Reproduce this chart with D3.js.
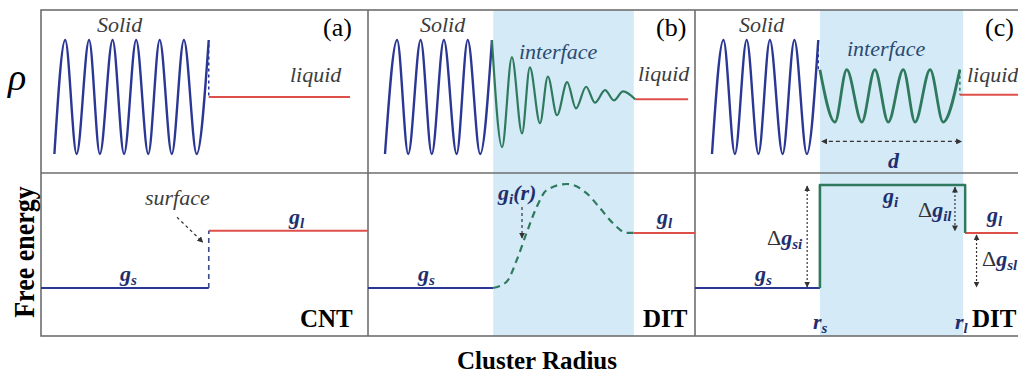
<!DOCTYPE html>
<html><head><meta charset="utf-8">
<script src="https://cdn.jsdelivr.net/npm/d3@7"></script>
<style>
body{margin:0;background:#fff;}
svg{display:block;}
svg text{font-family:"Liberation Serif",Tinos,"Times New Roman",Times,"DejaVu Serif","Noto Serif",serif !important;}
</style></head><body>
<svg id="c" width="1018" height="374"></svg>
<script>
// ---------- data (x: position across a panel 0–100, y: relative value 0–1) ----------
const panelTags = ["(a)", "(b)", "(c)"];
const theories  = ["CNT", "DIT", "DIT"];

// density profiles, extrema
const solidA_x = [4.1,7.4,10.9,14.7,18.0,21.9,25.4,29.1,32.8,36.3,40.0,43.7,47.6,51.3];
const solidA_y = [0,1,0,1,0,1,0,1,0,1,0,1,0,1];
const solidB_x = [5.2,8.9,12.3,16.1,19.5,23.2,27.1,30.5,34.3,37.9];
const solidB_y = [0,1,0,1,0,1,0,1,0,1];
const solidC_x = [5.2,8.7,12.2,15.8,19.4,22.9,26.8,30.4,34.2,37.7];
const solidC_y = [0,1,0,1,0,1,0,1,0,1];
const interfB_x = [37.9,41.0,44.0,47.1,49.5,52.6,55.0,57.8,60.9,63.6,66.7,69.4,72.5,75.2,78.0,81.7];
const interfB_y = [1.0,0.06,0.85,0.18,0.76,0.27,0.68,0.34,0.63,0.40,0.59,0.45,0.56,0.47,0.55,0.48];
const interfC_x = [38.2,42.8,46.4,51.0,55.0,59.1,63.7,67.3,71.9,75.9,81.0];
const interfC_y = [0.74,0.28,0.74,0.28,0.74,0.28,0.74,0.28,0.74,0.28,0.74];
const liquidRho   = [0.50, 0.48, 0.52];
const liquidStart = [51.3, 81.7, 81.0];
const liquidEnd   = [94.5, 97.9, 102];
const interfaceZone = [null, [38.3, 81.3], [38.2, 82.0]];

// free-energy profiles
const gsLevel = 0;
const gsEnd   = [51.3, 38.3, 38.2];
const glLevel = [0.55, 0.53, 0.53];
const glStart = [51.3, 81.3, 82.6];
const glEnd   = [100, 100, 102];
const giB_x = [38.3,42.4,45.5,48.5,51.6,54.6,60.8,66.9,70.9,75.0,79.1,81.3];
const giB_y = [0,0.06,0.27,0.53,0.78,0.94,1.0,0.91,0.77,0.62,0.53,0.53];
const giC_level = 0.99;

// ---------- layout ----------
const FONT = "'Liberation Serif', Tinos, 'Times New Roman', Times, 'DejaVu Serif', 'Noto Serif', serif";
const svg = d3.select("#c");
const panelX0 = [41, 368, 695], panelW = 327;
const top0 = 10, mid = 173, bot0 = 336;
const xs = panelX0.map(x0 => d3.scaleLinear().domain([0,100]).range([x0, x0+panelW]));
const yTop = d3.scaleLinear().domain([0,1]).range([154, 40]);
const yBot = d3.scaleLinear().domain([0,1]).range([288, 184]);

const BLUE = "#2b3794", GREEN = "#2f7a5e", RED = "#de4f4a", NAVY = "#1f2f6e", GREY = "#3c3c3c";

// markers
const defs = svg.append("defs");
function marker(id, color, orient){
  defs.append("marker").attr("id", id).attr("viewBox","0 0 10 10").attr("refX",9).attr("refY",5)
    .attr("markerWidth",5).attr("markerHeight",5).attr("orient", orient)
    .append("path").attr("d","M0,0L10,5L0,10z").attr("fill", color);
}
marker("arr", "#333", "auto");
marker("arr2", "#333", "auto-start-reverse");

// interface shading
interfaceZone.forEach((z,i) => {
  if (!z) return;
  svg.append("rect").attr("x", xs[i](z[0])).attr("y", top0)
    .attr("width", xs[i](z[1]) - xs[i](z[0])).attr("height", bot0 - top0)
    .attr("fill", "#d4eaf7");
});

// frame
const frame = svg.append("g").attr("stroke", "#6e6e6e").attr("stroke-width", 1.6).attr("fill","none");
frame.append("rect").attr("x", panelX0[0]).attr("y", top0).attr("width", 3*panelW).attr("height", bot0-top0);
frame.append("line").attr("x1", panelX0[0]).attr("x2", panelX0[0]+3*panelW).attr("y1", mid).attr("y2", mid);
[1,2].forEach(i => frame.append("line").attr("x1", panelX0[i]).attr("x2", panelX0[i]).attr("y1", top0).attr("y2", bot0));

const zip = (a, b) => a.map((v,k) => [v, b[k]]);
function path(pts, sx, sy, color, w, dash, curve){
  const l = d3.line().x(d => sx(d[0])).y(d => sy(d[1]));
  if (curve) l.curve(curve);
  svg.append("path").attr("d", l(pts)).attr("fill","none").attr("stroke", color)
    .attr("stroke-width", w).attr("stroke-dasharray", dash || null).attr("stroke-linejoin","round");
}

// ---- density panels ----
path(zip(solidA_x, solidA_y), xs[0], yTop, BLUE, 2.4, null, d3.curveMonotoneX);
path(zip(solidB_x, solidB_y), xs[1], yTop, BLUE, 2.4, null, d3.curveMonotoneX);
path(zip(solidC_x, solidC_y), xs[2], yTop, BLUE, 2.4, null, d3.curveMonotoneX);
path(zip(interfB_x, interfB_y), xs[1], yTop, GREEN, 2.2, null, d3.curveMonotoneX);
path(zip(interfC_x, interfC_y), xs[2], yTop, GREEN, 2.8, null, d3.curveMonotoneX);
liquidRho.forEach((v,i) => path([[liquidStart[i], v],[liquidEnd[i], v]], xs[i], yTop, RED, 2));
// connectors
path([[solidA_x[13], 0.96],[solidA_x[13], liquidRho[0]]], xs[0], yTop, BLUE, 1.5, "3,3");
path([[solidC_x[9], 0.98],[solidC_x[9], interfC_y[0]]], xs[2], yTop, BLUE, 1.5, "3,3");
path([[interfC_x[10], interfC_y[10]],[interfC_x[10], liquidRho[2]]], xs[2], yTop, GREEN, 1.5, "3,3");

// ---- free energy panels ----
gsEnd.forEach((e,i) => path([[0, gsLevel],[e, gsLevel]], xs[i], yBot, BLUE, 2));
glLevel.forEach((v,i) => path([[glStart[i], v],[glEnd[i], v]], xs[i], yBot, RED, 2));
path([[gsEnd[0], gsLevel],[gsEnd[0], glLevel[0]]], xs[0], yBot, "#3a4a8a", 1.6, "5,4");
path(zip(giB_x, giB_y), xs[1], yBot, GREEN, 2.2, "7,5", d3.curveMonotoneX);
path([[gsEnd[2], gsLevel],[gsEnd[2], giC_level],[glStart[2], giC_level],[glStart[2], glLevel[2]]], xs[2], yBot, GREEN, 2.6);

// arrows
function arrow(x1,y1,x2,y2,dash,both){
  svg.append("line").attr("x1",x1).attr("y1",y1).attr("x2",x2).attr("y2",y2)
    .attr("stroke","#333").attr("stroke-width",1.2).attr("stroke-dasharray",dash)
    .attr("marker-end","url(#arr)").attr("marker-start", both ? "url(#arr2)" : null);
}
arrow(xs[0](41.6), yBot(0.68), xs[0](49.5), yBot(0.44), "3,3", false);
arrow(xs[1](47.1), yBot(0.78), xs[1](47.1), yBot(0.48), "3,3", false);
arrow(xs[2](38.8), yTop(0.11), xs[2](81.5), yTop(0.11), "4,3", true);
arrow(xs[2](34.3), yBot(0.98), xs[2](34.3), yBot(0.01), "2,2", true);
arrow(xs[2](79.5), yBot(0.97), xs[2](79.5), yBot(0.55), "2,2", true);
arrow(xs[2](86.1), yBot(0.51), xs[2](86.1), yBot(0.01), "2,2", true);

// ---------- text ----------
function txt(x, y, s, opt){
  const t = svg.append("text").attr("x", x).attr("y", y).text(s)
    .style("font-family", FONT)
    .attr("font-size", opt.size || 22).attr("fill", opt.color || "#000");
  if (opt.italic) t.attr("font-style","italic");
  if (opt.bold) t.attr("font-weight","bold");
  if (opt.anchor) t.attr("text-anchor", opt.anchor);
  return t;
}
function glabel(x, y, sub, extra, delta){
  const t = svg.append("text").attr("x", x).attr("y", y).attr("font-size", 22).style("font-family", FONT);
  if (delta) t.append("tspan").text("Δ").attr("fill", "#333");
  t.append("tspan").text("g").attr("font-weight","bold").attr("font-style","italic").attr("fill", NAVY);
  t.append("tspan").text(sub).attr("font-size", 15).attr("dy", 4)
    .attr("font-weight","bold").attr("font-style","italic").attr("fill", NAVY);
  if (extra) t.append("tspan").text(extra).attr("dy", -4)
    .attr("font-weight","bold").attr("font-style","italic").attr("fill", NAVY);
}

// axis titles
txt(8, 90, "ρ", {size: 38, italic: true});
txt(0, 0, "Free energy", {size: 26, bold: true, anchor: "middle"})
  .attr("transform", "translate(34,252) rotate(-90) scale(1,1.15)");
txt(537, 369, "Cluster Radius", {size: 25, bold: true, anchor: "middle"});

// panel tags and theory labels
const tagX = [323, 656, 985];
panelTags.forEach((s,i) => txt(tagX[i], 36, s, {size: 26}));
const thX = [300, 643, 972];
theories.forEach((s,i) => txt(thX[i], 327, s, {size: 25, bold: true}));

// density labels
[97, 420, 739].forEach(x => txt(x, 32, "Solid", {italic: true, color: GREY}));
[[290,82],[638,81],[967,82]].forEach(p => txt(p[0], p[1], "liquid", {italic: true, color: GREY}));
txt(519, 59, "interface", {italic: true, color: "#2b4a72"});
txt(847, 56, "interface", {italic: true, color: "#2b4a72"});
txt(145, 205, "surface", {italic: true, color: GREY});
txt(888, 168, "d", {italic: true, bold: true, color: NAVY});

// energy labels
[120, 418, 755].forEach(x => glabel(x, 281, "s"));
glabel(289, 224, "l"); glabel(657, 224, "l"); glabel(987, 222, "l");
glabel(498, 200, "i", "(r)");
glabel(883, 203, "i");
glabel(767, 245, "si", null, true);
glabel(918, 217, "il", null, true);
glabel(982, 266, "sl", null, true);
function rlabel(x, sub){
  const t = svg.append("text").attr("x", x).attr("y", 329).attr("font-size", 22).style("font-family", FONT)
    .attr("font-weight","bold").attr("font-style","italic").attr("fill", NAVY);
  t.append("tspan").text("r");
  t.append("tspan").text(sub).attr("font-size", 15).attr("dy", 4);
}
rlabel(813, "s"); rlabel(955, "l");
</script>
</body></html>
